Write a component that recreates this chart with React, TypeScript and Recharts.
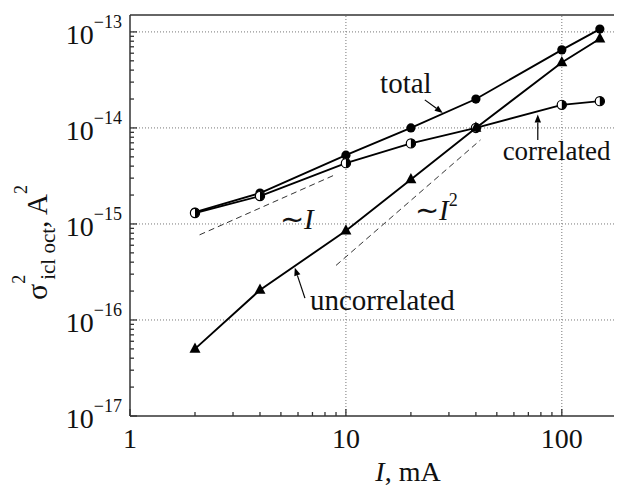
import { Line, LineChart, ReferenceDot, ReferenceLine, XAxis, YAxis } from "recharts";

// drive current, mA
const currents = [2, 4, 10, 20, 40, 100, 150];
// noise variance, A^2
const totalNoise = [1.33e-15, 2.1e-15, 5.2e-15, 1.0e-14, 2.0e-14, 6.5e-14, 1.07e-13];
const correlatedNoise = [1.3e-15, 1.95e-15, 4.3e-15, 6.9e-15, 1.0e-14, 1.74e-14, 1.9e-14];
const uncorrelatedNoise = [5.0e-17, 2.05e-16, 8.5e-16, 2.9e-15, 1.0e-14, 4.8e-14, 8.5e-14];

// guide lines ~I and ~I^2
const slopeOneGuide = [
  { x: 2.1, y: 7.7e-16 },
  { x: 8.9, y: 3.25e-15 },
];
const slopeTwoGuide = [
  { x: 9.0, y: 3.7e-16 },
  { x: 42, y: 7.5e-15 },
];

const xMajorTicks = [1, 10, 100];
const xTickLabels = ["1", "10", "100"];
const yMajorTicks = [1e-17, 1e-16, 1e-15, 1e-14, 1e-13];
const yTickExponents = ["\u221217", "\u221216", "\u221215", "\u221214", "\u221213"];

const X_DOMAIN: [number, number] = [1, 190];
const Y_DOMAIN: [number, number] = [1e-17, 1.5e-13];

const minorSteps = [1, 2, 3, 4, 5, 6, 7, 8, 9];
const xTicks = xMajorTicks.flatMap((d) => minorSteps.map((m) => m * d)).filter((v) => v <= X_DOMAIN[1]);
const yTicks = yMajorTicks.flatMap((d) => minorSteps.map((m) => m * d)).filter((v) => v <= Y_DOMAIN[1]);

const toPoints = (ys: number[]) => currents.map((x, i) => ({ x, y: ys[i] }));
const totalData = toPoints(totalNoise);
const correlatedData = toPoints(correlatedNoise);
const uncorrelatedData = toPoints(uncorrelatedNoise);

const FONT = "'Liberation Serif', 'Times New Roman', serif";
const INK = "#111";
const AXIS = "#333";

function XTick(props: any) {
  const { x, y, payload } = props;
  const idx = xMajorTicks.indexOf(payload.value);
  const major = idx >= 0;
  return (
    <g>
      <line x1={x} y1={y} x2={x} y2={y - (major ? 7 : 4)} stroke={AXIS} strokeWidth={1.3} />
      {major && (
        <text x={x} y={y + 32} textAnchor="middle" fontFamily={FONT} fontSize={28} fill={INK}>
          {xTickLabels[idx]}
        </text>
      )}
    </g>
  );
}

function YTick(props: any) {
  const { x, y, payload } = props;
  const idx = yMajorTicks.indexOf(payload.value);
  const major = idx >= 0;
  const ax = x + 8;
  return (
    <g>
      <line x1={ax} y1={y} x2={ax + (major ? 7 : 4)} y2={y} stroke={AXIS} strokeWidth={1.3} />
      {major && (
        <text x={x} y={y + 12} textAnchor="end" fontFamily={FONT} fill={INK}>
          <tspan fontSize={28}>10</tspan>
          <tspan fontSize={18} dy={-16}>
            {yTickExponents[idx]}
          </tspan>
        </text>
      )}
    </g>
  );
}

const renderTotalDot = (p: any) => <circle key={`t${p.index}`} cx={p.cx} cy={p.cy} r={4.6} fill="#000" />;

const renderCorrelatedDot = (p: any) => {
  const r = 4.6;
  return (
    <g key={`c${p.index}`}>
      <circle cx={p.cx} cy={p.cy} r={r} fill="#fff" stroke="#000" strokeWidth={1.2} />
      <path d={`M ${p.cx} ${p.cy - r} A ${r} ${r} 0 0 1 ${p.cx} ${p.cy + r} Z`} fill="#000" />
    </g>
  );
};

const renderUncorrelatedDot = (p: any) => (
  <polygon
    key={`u${p.index}`}
    points={`${p.cx},${p.cy - 6.5} ${p.cx - 5.5},${p.cy + 3.8} ${p.cx + 5.5},${p.cy + 3.8}`}
    fill="#000"
  />
);

function Arrow(props: any) {
  const { x1, y1, x2, y2 } = props;
  const a = Math.atan2(y2 - y1, x2 - x1);
  const L = 8;
  const W = 3.2;
  const bx = x2 - L * Math.cos(a);
  const by = y2 - L * Math.sin(a);
  const pts = `${x2},${y2} ${bx + W * Math.sin(a)},${by - W * Math.cos(a)} ${bx - W * Math.sin(a)},${by + W * Math.cos(a)}`;
  return (
    <g>
      <line x1={x1} y1={y1} x2={bx} y2={by} stroke="#000" strokeWidth={1.2} />
      <polygon points={pts} fill="#000" />
    </g>
  );
}

const textShape = (content: React.ReactNode, size = 29) => (p: any) => (
  <text x={p.cx} y={p.cy} fontFamily={FONT} fontSize={size} fill={INK}>
    {content}
  </text>
);

const renderYLabel = () => (
  <text transform="translate(39, 292) rotate(-90)" fontFamily={FONT} fill={INK}>
    <tspan fontSize={30}>σ</tspan>
    <tspan fontSize={18} dy={-22}>
      2
    </tspan>
    <tspan fontSize={21} dy={30} dx={-5}>
      icl oct
    </tspan>
    <tspan fontSize={29} dy={-8}>
      , A
    </tspan>
    <tspan fontSize={18} dy={-20}>
      2
    </tspan>
  </text>
);

const renderXLabel = () => (
  <text x={400} y={473} textAnchor="middle" fontFamily={FONT} fontSize={28} fill={INK}>
    <tspan fontStyle="italic">I</tspan>, mA
  </text>
);

const gridStyle = { stroke: "#777", strokeDasharray: "1 2", strokeWidth: 1 };

export default function App() {
  return (
    <div style={{ width: 614, height: 480 }}>
      <LineChart width={614} height={480} margin={{ top: 7, right: 0, left: 0, bottom: 0 }}>
        <XAxis
          dataKey="x"
          type="number"
          scale="log"
          domain={X_DOMAIN}
          allowDataOverflow
          ticks={xTicks}
          interval={0}
          tickSize={0}
          tickMargin={0}
          tickLine={false}
          tick={<XTick />}
          axisLine={{ stroke: AXIS, strokeWidth: 1.5 }}
          height={72}
          label={renderXLabel}
        />
        <YAxis
          dataKey="y"
          type="number"
          scale="log"
          domain={Y_DOMAIN}
          allowDataOverflow
          ticks={yTicks}
          interval={0}
          tickSize={0}
          tickMargin={8}
          tickLine={false}
          tick={<YTick />}
          axisLine={{ stroke: AXIS, strokeWidth: 1.5 }}
          width={122}
          label={renderYLabel}
        />

        {yMajorTicks.slice(1).map((v) => (
          <ReferenceLine key={`gy${v}`} y={v} {...gridStyle} />
        ))}
        {xMajorTicks.slice(1).map((v) => (
          <ReferenceLine key={`gx${v}`} x={v} {...gridStyle} />
        ))}
        <ReferenceLine y={Y_DOMAIN[1]} stroke={AXIS} strokeWidth={1.5} />

        <Line data={slopeOneGuide} dataKey="y" stroke="#333" strokeWidth={1} strokeDasharray="6 4" dot={false} isAnimationActive={false} />
        <Line data={slopeTwoGuide} dataKey="y" stroke="#333" strokeWidth={1} strokeDasharray="6 4" dot={false} isAnimationActive={false} />

        <Line data={totalData} dataKey="y" stroke="#000" strokeWidth={1.9} dot={renderTotalDot} isAnimationActive={false} />
        <Line data={correlatedData} dataKey="y" stroke="#000" strokeWidth={1.9} dot={renderCorrelatedDot} isAnimationActive={false} />
        <Line data={uncorrelatedData} dataKey="y" stroke="#000" strokeWidth={1.9} dot={renderUncorrelatedDot} isAnimationActive={false} />

        <ReferenceLine segment={[{ x: 23.2, y: 1.96e-14 }, { x: 28.1, y: 1.43e-14 }]} shape={Arrow} />
        <ReferenceLine segment={[{ x: 77.4, y: 7.5e-15 }, { x: 77.4, y: 1.38e-14 }]} shape={Arrow} />
        <ReferenceLine segment={[{ x: 6.46, y: 1.69e-16 }, { x: 5.8, y: 3.5e-16 }]} shape={Arrow} />

        <ReferenceDot x={14.4} y={2.32e-14} r={0} shape={textShape("total")} />
        <ReferenceDot x={53.2} y={4.64e-15} r={0} shape={textShape("correlated", 27)} />
        <ReferenceDot x={6.81} y={1.27e-16} r={0} shape={textShape("uncorrelated")} />
        <ReferenceDot
          x={4.95}
          y={8.87e-16}
          r={0}
          shape={textShape(
            <>
              ∼<tspan fontStyle="italic">I</tspan>
            </>
          )}
        />
        <ReferenceDot
          x={20.9}
          y={1.1e-15}
          r={0}
          shape={textShape(
            <>
              ∼<tspan fontStyle="italic">I</tspan>
              <tspan fontSize={18} dy={-14}>
                2
              </tspan>
            </>
          )}
        />
      </LineChart>
    </div>
  );
}
